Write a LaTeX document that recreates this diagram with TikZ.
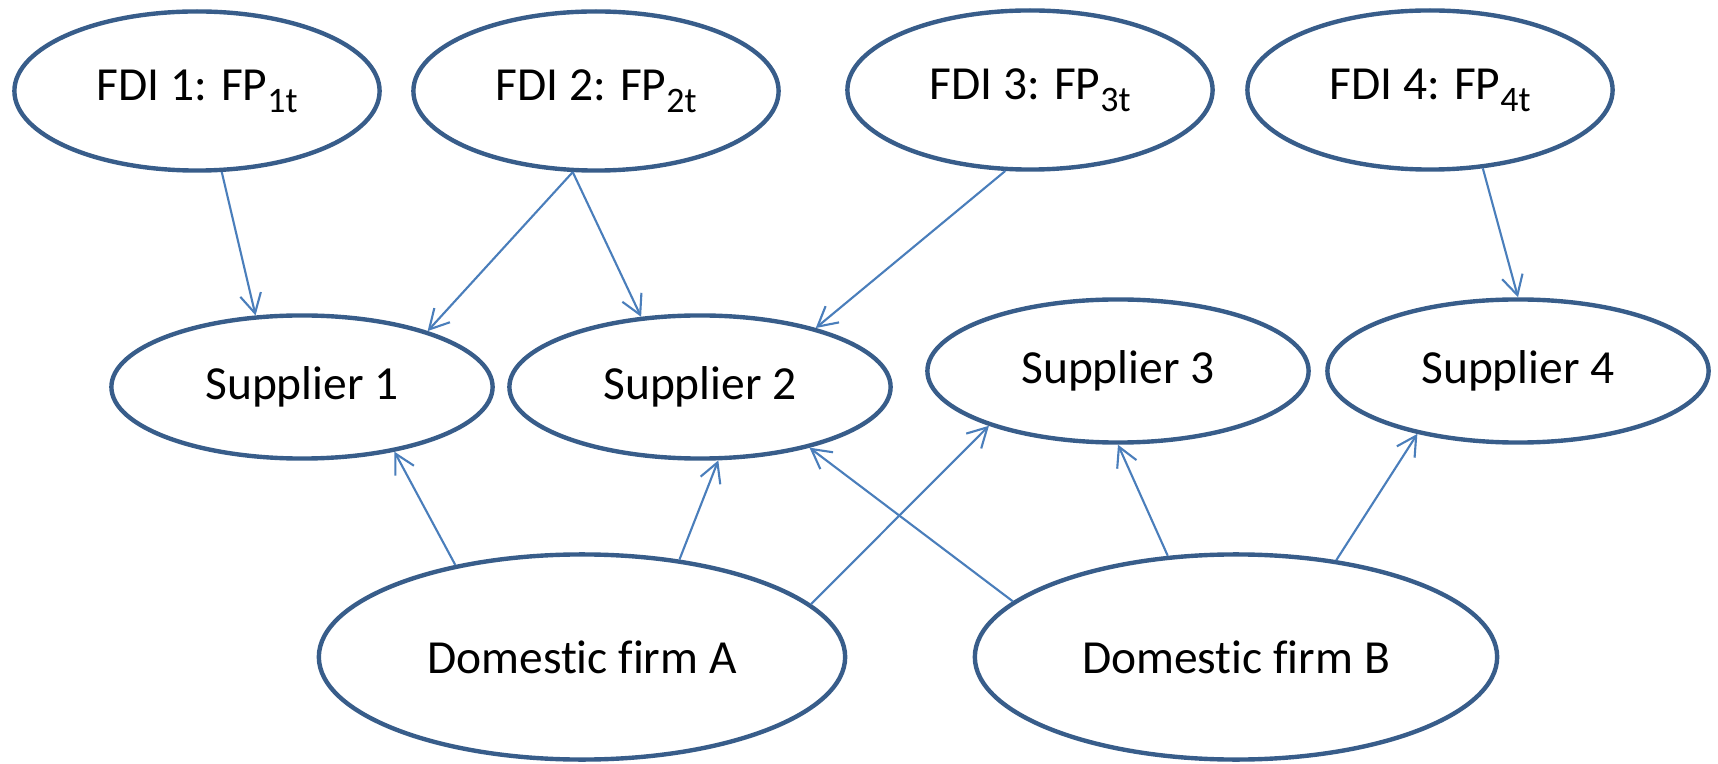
\documentclass[tikz,border=0pt]{standalone}
\usepackage{fontspec}
\setmainfont{Carlito}[Ligatures=NoCommon]
\usetikzlibrary{arrows.meta,shapes.geometric}
\definecolor{rimcolor}{RGB}{56,93,138}
\definecolor{linkcolor}{RGB}{74,126,187}
\newcommand{\lowsub}[1]{\raisebox{-3.4pt}{\fontsize{10.2}{12}\selectfont #1}}
\begin{document}
\begin{tikzpicture}[x=0.01cm, y=-0.01cm,
    every node/.style={font=\fontsize{13.5}{16}\selectfont},
    firm/.style={ellipse, draw=rimcolor, line width=1.25pt, inner sep=0pt},
    link/.style={-{Straight Barb[length=5.5pt,width=6pt]}, linkcolor, line width=0.6pt}]
  \useasboundingbox (0,0) rectangle (1718,764);
  % Foreign investors along the top
  \foreach \n/\x/\y in {1/197/91, 2/596/91, 3/1030/90, 4/1430/90} {
    \node[firm, minimum width=3.65cm, minimum height=1.59cm] (fdi\n) at (\x,\y) {FDI \n: FP\lowsub{\n t}};
  }
  % Suppliers in the middle row
  \foreach \n/\x/\y in {1/302/387, 2/700/387, 3/1118/371, 4/1518/371} {
    \node[firm, minimum width=3.81cm, minimum height=1.43cm] (sup\n) at (\x,\y) {Supplier \n};
  }
  % Domestic firms at the bottom
  \node[firm, minimum width=5.26cm, minimum height=2.05cm] (domA) at (582,657) {Domestic firm A};
  \node[firm, minimum width=5.22cm, minimum height=2.05cm] (domB) at (1236,657) {Domestic firm B};
  % FDI to supplier links
  \draw[link] (fdi1.-73) -- (sup1.123);
  \draw[link] (fdi2.-106) -- (sup1.24);
  \draw[link] (fdi2.-106) -- (sup2.130);
  \draw[link] (fdi3.-107) -- (sup2.27);
  \draw[link] (fdi4.-56) -- (sup4.90);
  % Domestic firm to supplier links
  \draw[link] (domA.144) -- (sup1.-35);
  \draw[link] (domA.45) -- (sup2.-76);
  \draw[link] (domA.13) -- (sup3.-157);
  \draw[link] (domB.166) -- (sup2.-29);
  \draw[link] (domB.124) -- (sup3.-90);
  \draw[link] (domB.44) -- (sup4.-148);
\end{tikzpicture}
\end{document}
